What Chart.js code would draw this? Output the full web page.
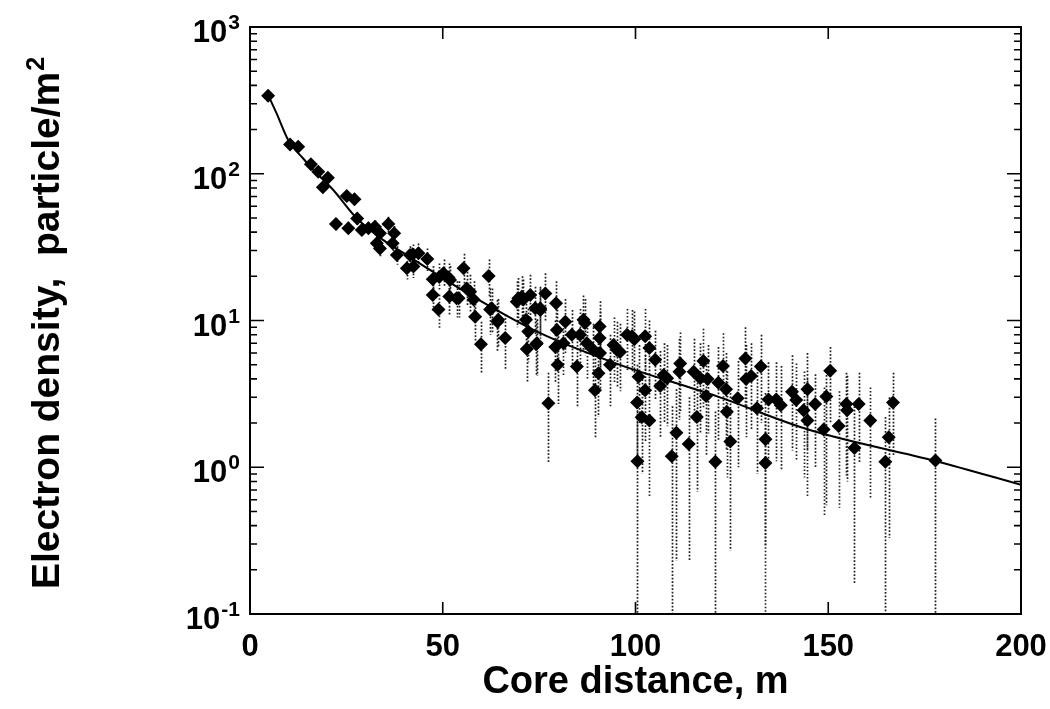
<!DOCTYPE html>
<html>
<head>
<meta charset="utf-8">
<script src="https://cdn.jsdelivr.net/npm/chart.js@4.4.1/dist/chart.umd.min.js"></script>
<style>
  html, body { margin: 0; padding: 0; background: #fff; }
  #wrap { width: 1050px; height: 709px; position: relative; }
</style>
</head>
<body>
<div id="wrap"><canvas id="chart-ldf"></canvas></div>
<script>
/* ── data ── */
const dist = [
  4.7, 10.4, 12.5, 15.8, 17.7, 18.9, 20.2, 22.3, 25.1, 25.5,
  27.1, 27.8, 29.0, 30.7, 32.4, 32.9, 33.7, 33.7, 35.9, 37.0,
  37.4, 38.1, 40.7, 41.5, 42.2, 42.4, 43.7, 46.0, 47.4, 47.4,
  48.9, 49.1, 50.2, 51.5, 51.7, 51.9, 53.6, 54.1, 55.4, 56.2,
  57.1, 58.0, 58.4, 59.9, 61.9, 62.3, 62.7, 64.2, 64.4, 66.2,
  69.2, 69.6, 70.5, 70.9, 71.6, 71.8, 72.2, 72.7, 74.0, 74.2,
  74.4, 75.3, 75.3, 76.6, 77.4, 79.2, 79.4, 79.6, 79.8, 81.3,
  81.8, 83.5, 84.8, 85.6, 86.5, 86.9, 87.4, 89.1, 89.5, 90.4,
  90.7, 90.7, 90.8, 93.4, 94.3, 95.2, 96.0, 97.8, 99.1, 99.7,
  100.4, 100.5, 100.8, 101.6, 102.5, 102.5, 103.6, 103.6, 105.1, 106.4,
  107.3, 108.2, 109.4, 110.6, 111.4, 111.6, 113.8, 115.1, 115.9, 116.8,
  117.6, 118.3, 118.7, 120.7, 121.5, 122.7, 123.5, 123.7, 124.6, 126.5,
  128.5, 128.7, 130.0, 131.5, 132.5, 133.7, 133.7, 134.5, 136.5, 137.7,
  140.6, 141.7, 143.6, 144.6, 144.6, 146.6, 148.8, 149.5, 150.5, 152.7,
  154.7, 154.9, 156.8, 157.9, 160.9, 164.8, 165.7, 166.8, 177.8
];
const dens = [
  340, 158, 153, 116, 103, 81, 94, 45.5, 70.5, 42.5,
  67, 49.6, 41.4, 42.5, 43.6, 33.6, 31.0, 39.3, 45.5, 33.6,
  39.3, 27.9, 22.7, 27.9, 28.3, 23.3, 28.7, 26.2, 19.1, 14.9,
  11.9, 19.8, 21.0, 19.6, 14.6, 18.9, 14.2, 14.2, 22.7, 16.5,
  15.7, 13.9, 10.6, 6.9, 20.1, 11.9, 12.1, 9.8, 10.1, 7.6,
  13.4, 14.2, 14.5, 13.9, 10.1, 6.4, 8.4, 14.9, 12.1, 6.9,
  7.0, 12.1, 11.8, 15.3, 2.73, 6.6, 13.1, 8.6, 5.0, 7.0,
  9.8, 8.0, 4.85, 8.0, 10.1, 9.6, 7.0, 6.3, 3.35, 4.37,
  9.1, 7.6, 6.0, 5.0, 6.8, 6.3, 6.1, 8.0, 7.8, 7.45,
  2.76, 1.1, 4.14, 2.19, 7.8, 3.35, 2.08, 6.5, 5.4, 3.58,
  4.26, 4.04, 1.19, 1.72, 4.48, 5.1, 1.44, 4.48, 2.2, 4.04,
  5.3, 3.06, 3.99, 1.09, 3.77, 4.9, 3.4, 2.39, 1.5, 2.95,
  5.5, 3.99, 4.19, 2.52, 4.85, 1.55, 1.07, 2.9, 2.9, 2.65,
  3.27, 2.87, 2.45, 3.4, 2.08, 2.7, 1.81, 3.03, 4.55, 1.91,
  2.7, 2.45, 1.35, 2.7, 2.08, 1.09, 1.6, 2.76, 1.11
];
const errLo = [
  322, 149, 144, 109, 96, 75, 87, 41, 65, 38,
  61, 45, 37, 38, 39, 29.5, 27, 35, 40, 29,
  34, 24, 19, 23.5, 24, 19.5, 24, 21.5, 15.5, 11.5,
  8.8, 16, 17, 15.5, 11, 15, 10.5, 10.5, 17.5, 12.5,
  11.5, 10, 7.2, 4.4, 14.5, 8, 8.2, 6.2, 6.5, 4.6,
  9, 9.5, 9.8, 9.5, 6.5, 3.8, 5.2, 10, 8, 4.2,
  4.2, 7.8, 7.5, 10, 1.07, 3.8, 8.5, 5.2, 2.7, 4.2,
  6, 4.8, 2.6, 4.8, 6.2, 5.8, 4, 3.5, 1.6, 2.2,
  5.5, 4.4, 3.4, 2.6, 3.8, 3.5, 3.3, 4.6, 4.4, 4.2,
  1.1, 0.1, 2, 0.9, 4.4, 1.5, 0.62, 3.6, 2.9, 1.6,
  2, 1.9, 0.1, 0.23, 2.1, 2.4, 0.23, 2, 0.68, 1.7,
  2.5, 1.2, 1.7, 0.1, 1.5, 2.2, 1.3, 0.85, 0.27, 1,
  2.6, 1.6, 1.8, 0.9, 2, 0.29, 0.1, 1.1, 1.1, 0.95,
  1.3, 1.1, 0.85, 1.3, 0.62, 1, 0.46, 0.55, 2, 0.53,
  0.88, 0.8, 0.16, 1.07, 0.62, 0.1, 0.33, 1.18, 0.1
];
const errHi = [
  358, 167, 162, 123, 110, 87, 101, 50, 76, 47,
  73, 54, 46, 47, 48, 38, 35, 44, 51, 38,
  44, 32, 27, 32, 33, 27.5, 33.5, 31, 23.5, 18.5,
  15, 24.5, 26, 24.5, 18.5, 23.5, 18.5, 18.5, 28.5, 21.5,
  20.5, 18.5, 14.5, 9.8, 26, 16.5, 16.5, 13.8, 14, 11,
  18.5, 19.5, 20, 19, 14.5, 9.5, 12, 20.5, 17, 10,
  10.2, 17, 16.5, 21, 4.4, 10, 18.5, 12.5, 7.8, 10.5,
  14, 11.8, 7.6, 12, 14.8, 14, 10.5, 9.5, 5.5, 7,
  13.5, 11.5, 9, 8, 10.5, 9.8, 9.5, 12, 11.8, 11.5,
  5, 2.4, 6.8, 4.2, 12, 5.8, 4, 10, 8.5, 6.2,
  7, 6.8, 2.6, 3.4, 7.5, 8.3, 3, 7.5, 4.2, 7,
  8.8, 5.5, 6.8, 2.4, 6.6, 8.2, 6, 4.5, 3.2, 5.3,
  9, 6.8, 7, 4.7, 8, 3.2, 2.3, 5.2, 5.2, 4.9,
  5.8, 5.1, 4.5, 6, 4, 4.3, 3.5, 4.25, 6.6, 3.3,
  4.4, 4.2, 2.6, 4.4, 3.5, 2.2, 3, 4.4, 2.15
];

// fitted lateral distribution
const fitDist = [4.7, 6.9, 9.9, 13.8, 17.3, 21.6, 27.7, 34.6, 40.7, 46.7, 58, 75.3, 96, 121, 145, 178, 200];
const fitDens = [344, 258, 170, 127, 100.7, 77.5, 49.7, 35.3, 27.9, 22.1, 14.5, 8.2, 4.98, 3.05, 1.8, 1.1, 0.76];

const xTickVals   = [0, 50, 100, 150, 200];
const xTickLabels = ['0', '50', '100', '150', '200'];
const yDecades    = [0.1, 1, 10, 100, 1000];
const yExponents  = ['-1', '0', '1', '2', '3'];
const xTitle = 'Core distance, m';
const yTitle = 'Electron density,  particle/m';
const yTitleSup = '2';

const FONT = "'Liberation Sans', Arial, Helvetica, sans-serif";

// ── dotted error bars, under the markers ──
const errorBars = {
  id: 'errorBars',
  beforeDatasetsDraw(chart) {
    const { ctx, chartArea: a, scales: { x, y } } = chart;
    ctx.save();
    ctx.beginPath();
    ctx.rect(a.left, a.top, a.right - a.left, a.bottom - a.top);
    ctx.clip();
    ctx.strokeStyle = '#1e1e1e';
    ctx.lineWidth = 1.7;
    ctx.setLineDash([1.7, 1.8]);
    dist.forEach((d, i) => {
      const px = Math.round(x.getPixelForValue(d)) + 0.5;
      ctx.beginPath();
      ctx.moveTo(px, y.getPixelForValue(errHi[i]));
      ctx.lineTo(px, y.getPixelForValue(errLo[i]));
      ctx.stroke();
    });
    ctx.restore();
  }
};

// ── box, inward ticks, labels, titles ──
const frame = {
  id: 'frame',
  afterDraw(chart) {
    const { ctx, chartArea: a, scales: { x, y } } = chart;
    ctx.save();
    ctx.strokeStyle = '#000';
    ctx.lineWidth = 2;
    ctx.strokeRect(a.left, a.top, a.right - a.left, a.bottom - a.top);

    ctx.lineWidth = 1.6;
    ctx.beginPath();
    xTickVals.slice(1, -1).forEach(v => {
      const px = x.getPixelForValue(v);
      ctx.moveTo(px, a.bottom); ctx.lineTo(px, a.bottom - 12);
      ctx.moveTo(px, a.top);    ctx.lineTo(px, a.top + 12);
    });
    yDecades.forEach((d, i) => {
      const py = y.getPixelForValue(d);
      if (i > 0 && i < yDecades.length - 1) {
        ctx.moveTo(a.left, py);  ctx.lineTo(a.left + 14, py);
        ctx.moveTo(a.right, py); ctx.lineTo(a.right - 14, py);
      }
      if (i < yDecades.length - 1) {
        for (let k = 2; k <= 9; k++) {
          const pm = y.getPixelForValue(d * k);
          ctx.moveTo(a.left, pm);  ctx.lineTo(a.left + 7, pm);
          ctx.moveTo(a.right, pm); ctx.lineTo(a.right - 7, pm);
        }
      }
    });
    ctx.stroke();

    ctx.fillStyle = '#000';
    // x tick labels
    ctx.font = `bold 31px ${FONT}`;
    ctx.textAlign = 'center';
    ctx.textBaseline = 'alphabetic';
    xTickVals.forEach((v, i) => {
      ctx.fillText(xTickLabels[i], x.getPixelForValue(v), a.bottom + 42);
    });

    // y tick labels: 10 with superscript exponent
    yDecades.forEach((d, i) => {
      const py = y.getPixelForValue(d);
      ctx.font = `bold 21px ${FONT}`;
      const supW = ctx.measureText(yExponents[i]).width;
      const right = a.left - 10;
      ctx.textAlign = 'left';
      ctx.fillText(yExponents[i], right - supW, py + 2);
      ctx.font = `bold 31px ${FONT}`;
      ctx.textAlign = 'right';
      ctx.fillText('10', right - supW - 1, py + 15);
    });

    // axis titles
    ctx.font = `bold 38px ${FONT}`;
    ctx.textAlign = 'center';
    ctx.fillText(xTitle, (a.left + a.right) / 2, a.bottom + 79);

    ctx.translate(59, (a.top + a.bottom) / 2 + 3);
    ctx.rotate(-Math.PI / 2);
    ctx.font = `bold 39px ${FONT}`;
    const w1 = ctx.measureText(yTitle).width;
    ctx.font = `bold 25px ${FONT}`;
    const w2 = ctx.measureText(yTitleSup).width;
    const start = -(w1 + w2) / 2;
    ctx.textAlign = 'left';
    ctx.font = `bold 39px ${FONT}`;
    ctx.fillText(yTitle, start, 0);
    ctx.font = `bold 25px ${FONT}`;
    ctx.fillText(yTitleSup, start + w1 + 1, -15);
    ctx.restore();
  }
};

const el = document.getElementById('chart-ldf');
new Chart(el, {
  type: 'scatter',
  data: {
    datasets: [{
      label: 'Data',
      data: dist.map((d, i) => ({ x: d, y: dens[i] })),
      pointStyle: 'rectRot',
      pointRadius: 7,
      backgroundColor: '#000',
      borderColor: '#000',
      borderWidth: 0,
      order: 1,
    }, {
      label: 'Fit',
      type: 'line',
      data: fitDist.map((d, i) => ({ x: d, y: fitDens[i] })),
      showLine: true,
      borderColor: '#000',
      borderWidth: 2,
      pointRadius: 0,
      cubicInterpolationMode: 'monotone',
      fill: false,
      order: 2,
    }]
  },
  options: {
    responsive: true, maintainAspectRatio: false, animation: false,
    layout: { padding: { left: 250, top: 27, right: 29, bottom: 95 } },
    plugins: { legend: { display: false }, tooltip: { enabled: false } },
    scales: {
      x: { type: 'linear', min: 0, max: 200, display: false },
      y: { type: 'logarithmic', min: 0.1, max: 1000, display: false }
    }
  },
  plugins: [errorBars, frame]
});
</script>
</body>
</html>
